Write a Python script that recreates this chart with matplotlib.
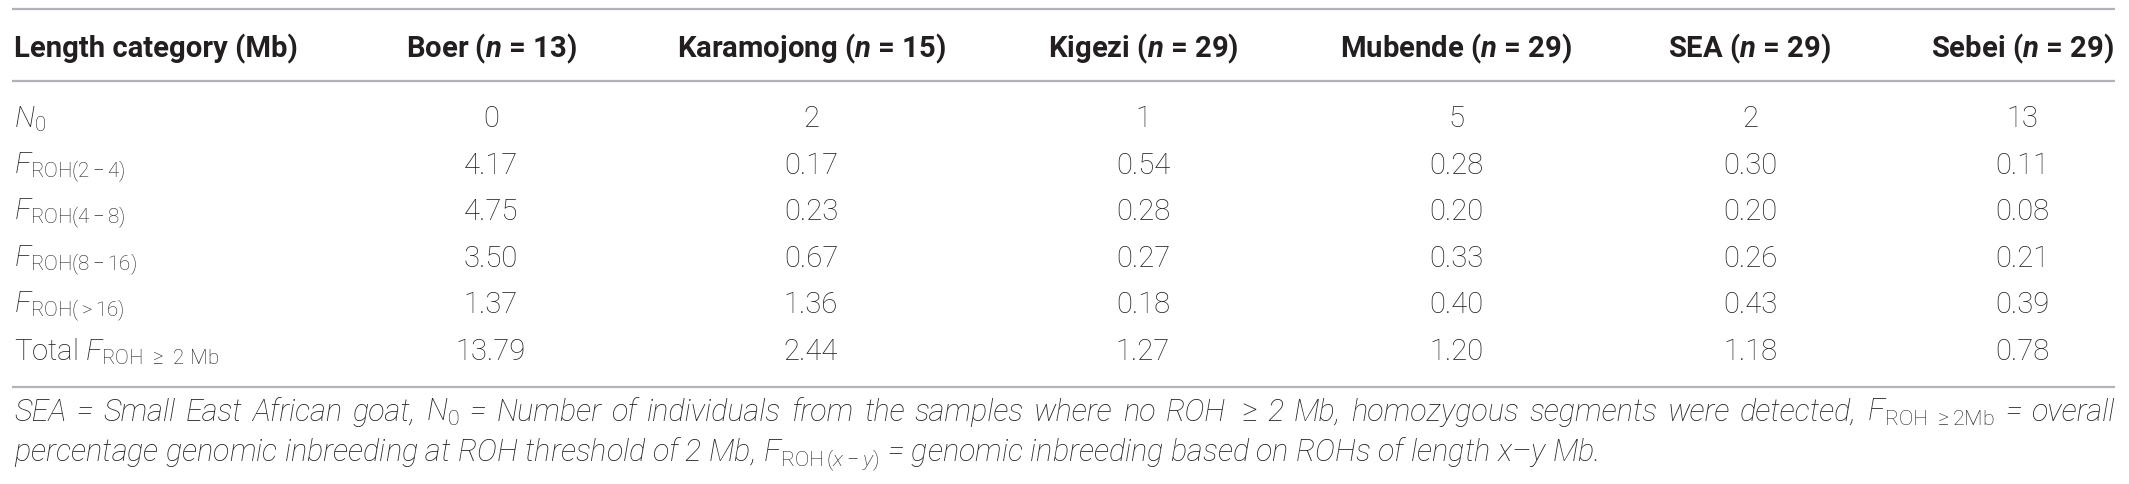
import matplotlib
matplotlib.use("Agg")
import matplotlib.pyplot as plt
from matplotlib import font_manager as fm

# ---------------- data ----------------
row_header = "Length category (Mb)"
breeds = ["Boer", "Karamojong", "Kigezi", "Mubende", "SEA", "Sebei"]
sample_sizes = [13, 15, 29, 29, 29, 29]
row_labels = [
    r"$N_0$",
    r"$F_{\mathrm{ROH(2-4)}}$",
    r"$F_{\mathrm{ROH(4-8)}}$",
    r"$F_{\mathrm{ROH(8-16)}}$",
    r"$F_{\mathrm{ROH(>16)}}$",
    r"Total $F_{\mathrm{ROH}\ \geq\ 2\ \mathrm{Mb}}$",
]
n0 = [0, 2, 1, 5, 2, 13]
froh_2_4 = [4.17, 0.17, 0.54, 0.28, 0.30, 0.11]
froh_4_8 = [4.75, 0.23, 0.28, 0.20, 0.20, 0.08]
froh_8_16 = [3.50, 0.67, 0.27, 0.33, 0.26, 0.21]
froh_gt16 = [1.37, 1.36, 0.18, 0.40, 0.43, 0.39]
froh_total = [13.79, 2.44, 1.27, 1.20, 1.18, 0.78]

footnote_line1 = (r"SEA = Small East African goat, $N_0$ = Number of individuals from the "
                  r"samples where no ROH $\geq$ 2 Mb, homozygous segments were detected, "
                  r"$F_{\mathrm{ROH}\ \geq\mathrm{2Mb}}$ = overall")
footnote_line2 = (r"percentage genomic inbreeding at ROH threshold of 2 Mb, "
                  r"$F_{\mathrm{ROH}\,(x-y)}$ = genomic inbreeding based on ROHs of length x–y Mb.")

# ---------------- fonts ----------------
names = {f.name for f in fm.fontManager.ttflist}
FAM = "Liberation Sans Narrow" if "Liberation Sans Narrow" in names else "Roboto"
plt.rcParams["font.family"] = [FAM, "DejaVu Sans"]
plt.rcParams["mathtext.fontset"] = "custom"
plt.rcParams["mathtext.rm"] = FAM + ":light"
plt.rcParams["mathtext.it"] = FAM + ":italic:light"
plt.rcParams["mathtext.bf"] = FAM + ":bold"
plt.rcParams["mathtext.bfit"] = FAM + ":italic:bold"

TXT = "#231f20"
LINE = "#b1b3b6"

W, H = 2129, 485
fig = plt.figure(figsize=(W / 100, H / 100), dpi=100)
ax = fig.add_axes([0, 0, 1, 1])
ax.set_xlim(0, W)
ax.set_ylim(H, 0)
ax.axis("off")
renderer = fig.canvas.get_renderer()


def width_of(t):
    return t.get_window_extent(renderer=renderer).width


# layout (pixels)
x_left = 14
x_right = 2115
col_x = [491, 811, 1143, 1456, 1750, 2022]
y_top_line = 10
y_head_line = 82
y_bottom_line = 388
header_baseline = 57
row_baselines = [127, 174, 220, 267, 313, 360]
foot_baselines = [421, 460]

# fit table font size so "Boer (n = 13)" is ~171 px wide
probe = ax.text(0, 0, r"Boer ($\mathbfit{n}$ = 13)", fontsize=20, fontweight="bold")
fs = 20 * 171 / width_of(probe)
probe.remove()

for y in (y_top_line, y_head_line, y_bottom_line):
    ax.plot([x_left - 2, x_right], [y, y], color=LINE, lw=1.6, solid_capstyle="butt")

ax.text(x_left, header_baseline, row_header, fontsize=fs, fontweight="bold",
        color=TXT, ha="left", va="baseline")
for b, n, x in zip(breeds, sample_sizes, col_x):
    ax.text(x, header_baseline, rf"{b} ($\mathbfit{{n}}$ = {n})", fontsize=fs,
            fontweight="bold", color=TXT, ha="center", va="baseline")

rows = [
    [str(v) for v in n0],
    [f"{v:.2f}" for v in froh_2_4],
    [f"{v:.2f}" for v in froh_4_8],
    [f"{v:.2f}" for v in froh_8_16],
    [f"{v:.2f}" for v in froh_gt16],
    [f"{v:.2f}" for v in froh_total],
]
for lab, vals, yb in zip(row_labels, rows, row_baselines):
    ax.text(x_left, yb, lab, fontsize=fs, fontweight="light", color=TXT,
            ha="left", va="baseline")
    for v, x in zip(vals, col_x):
        ax.text(x, yb, v, fontsize=fs, fontweight="light", color=TXT,
                ha="center", va="baseline")

# footnote: fit size from the second line (~1587 px wide)
t2 = ax.text(x_left, foot_baselines[1], footnote_line2, fontsize=20, style="italic",
             fontweight="light", color=TXT, ha="left", va="baseline")
ffs = 20 * 1587 / width_of(t2)
t2.set_fontsize(ffs)

# first footnote line: justified across the table width
tokens = []
cur = ""
in_math = False
for ch in footnote_line1:
    if ch == "$":
        in_math = not in_math
    if ch == " " and not in_math:
        if cur:
            tokens.append(cur)
        cur = ""
    else:
        cur += ch
if cur:
    tokens.append(cur)

objs = [ax.text(0, foot_baselines[0], tk, fontsize=ffs, style="italic", fontweight="light",
                color=TXT, ha="left", va="baseline") for tk in tokens]
widths = [width_of(o) for o in objs]
gap = (x_right - x_left - sum(widths)) / (len(objs) - 1)
x = x_left
for o, w in zip(objs, widths):
    o.set_x(x)
    x += w + gap

fig.savefig("out.png", dpi=100)
